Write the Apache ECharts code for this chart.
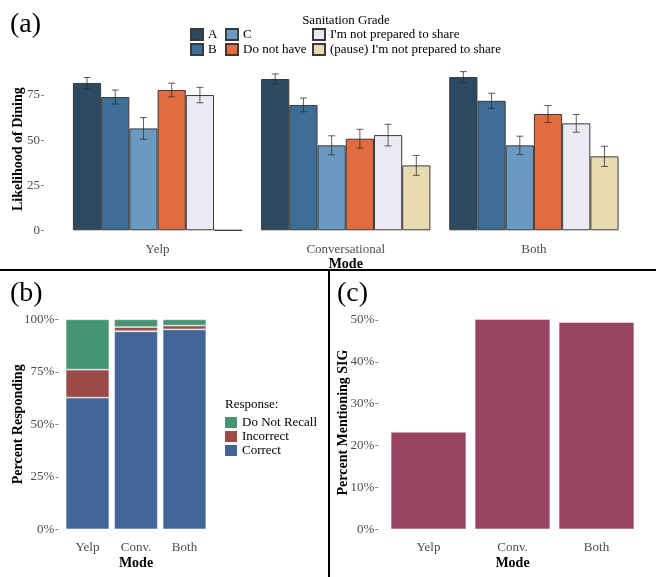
<!DOCTYPE html>
<html><head><meta charset="utf-8">
<script src="https://cdn.jsdelivr.net/npm/echarts@6/dist/echarts.min.js"></script>
<style>html,body{margin:0;padding:0;background:#fff}#c{width:660px;height:577px}</style>
</head><body><div id="c"></div>
<script>
// ---- Panel (a) data ----
const modesA = ['Yelp', 'Conversational', 'Both'];
const grades = ['A', 'B', 'C', 'Do not have', "I'm not prepared to share", "(pause) I'm not prepared to share"];
const gradeA = [81.7, 83.9, 85.0];
const gradeB = [73.9, 69.5, 71.8];
const gradeC = [56.5, 47.1, 47.1];
const gradeDNH = [77.8, 50.8, 64.5];
const gradeINPS = [75.0, 52.8, 59.3];
const gradePause = [0, 36.0, 41.0];
const errA = [3.0, 2.8, 3.0];
const errB = [3.9, 3.8, 4.2];
const errC = [6.0, 5.3, 5.1];
const errDNH = [3.8, 5.2, 4.7];
const errINPS = [4.3, 6.0, 4.9];
const errPause = [null, 5.5, 5.6];
const ticksA = [0, 25, 50, 75];

// ---- Panel (b) data ----
const modesB = ['Yelp', 'Conv.', 'Both'];
const responses = ['Do Not Recall', 'Incorrect', 'Correct'];
const correct = [62.7, 94.3, 95.2];
const incorrect = [13.3, 2.0, 1.8];
const doNotRecall = [24.0, 3.7, 3.0];
const ticksB = [0, 25, 50, 75, 100];

// ---- Panel (c) data ----
const modesC = ['Yelp', 'Conv.', 'Both'];
const mentionSIG = [23.3, 50.2, 49.5];
const ticksC = [0, 10, 20, 30, 40, 50];

const gradeColors = ['#2d4a63', '#3e6e98', '#6a9ac2', '#e06c3f', '#ede9f3', '#e9dbb1'];
const gradeVals = [gradeA, gradeB, gradeC, gradeDNH, gradeINPS, gradePause];
const gradeErrs = [errA, errB, errC, errDNH, errINPS, errPause];

const FONT = '"Liberation Serif", "Times New Roman", serif';
const tickLbl = {color: '#4d4d4d', fontFamily: FONT, fontSize: 13};
const nameSty = {color: '#000', fontFamily: FONT, fontSize: 14, fontWeight: 'bold'};

const errData = [];
gradeErrs.forEach((arr, si) => arr.forEach((e, ci) => {
  if (e != null) errData.push([ci, si, gradeVals[si][ci] - e, gradeVals[si][ci] + e]);
}));

const series = [];
grades.forEach((g, i) => series.push({
  name: g, type: 'bar', xAxisIndex: 0, yAxisIndex: 0,
  data: gradeVals[i], barGap: '0%', barCategoryGap: '10%',
  itemStyle: {color: gradeColors[i], borderColor: '#3a3a3a', borderWidth: 1},
  emphasis: {disabled: true}, clip: false
}));
series.push({
  type: 'custom', xAxisIndex: 0, yAxisIndex: 0, data: errData,
  encode: {x: 0, y: [2, 3]}, z: 10,
  renderItem: function (params, api) {
    const ci = api.value(0), si = api.value(1);
    const band = api.size([1, 0])[0];
    const bw = band * 0.9 / 6;
    const cx = api.coord([ci, 0])[0] + (si - 2.5) * bw;
    const lo = api.coord([ci, api.value(2)])[1];
    const hi = api.coord([ci, api.value(3)])[1];
    const cap = 3.5;
    const st = {stroke: '#2a2a2a', lineWidth: 1, opacity: 0.75};
    return {type: 'group', children: [
      {type: 'line', shape: {x1: cx, y1: hi, x2: cx, y2: lo}, style: st},
      {type: 'line', shape: {x1: cx - cap, y1: hi, x2: cx + cap, y2: hi}, style: st},
      {type: 'line', shape: {x1: cx - cap, y1: lo, x2: cx + cap, y2: lo}, style: st}
    ]};
  }
});
const respColors = {'Correct': '#436598', 'Incorrect': '#9c4b46', 'Do Not Recall': '#459574'};
[['Correct', correct], ['Incorrect', incorrect], ['Do Not Recall', doNotRecall]].forEach(([n, d]) => series.push({
  name: n, type: 'bar', xAxisIndex: 1, yAxisIndex: 1, stack: 'resp', data: d,
  barCategoryGap: '10%', itemStyle: {color: respColors[n], borderColor: 'rgba(235,240,245,0.7)', borderWidth: 0.8},
  emphasis: {disabled: true}
}));
series.push({
  name: 'SIG', type: 'bar', xAxisIndex: 2, yAxisIndex: 2, data: mentionSIG,
  barCategoryGap: '10%', itemStyle: {color: '#974462', borderColor: 'rgba(245,230,235,0.7)', borderWidth: 0.8},
  emphasis: {disabled: true}, clip: false
});

const legSty = {fontFamily: FONT, fontSize: 13, color: '#000', lineHeight: 13};
function leg(data, left, top, w, h, gap, extra) {
  return Object.assign({data: data, left: left, top: top, orient: 'vertical', itemWidth: w, itemHeight: h,
    itemGap: gap, selectedMode: false, padding: 0, textStyle: legSty, icon: 'rect'}, extra || {});
}

const chart = echarts.init(document.getElementById('c'), null, {renderer: 'canvas'});
chart.setOption({
  animation: false,
  backgroundColor: '#fff',
  grid: [
    {left: 63.5, right: 32, top: 68, bottom: 346.7},
    {left: 63.25, right: 451.25, top: 319.3, bottom: 47.7},
    {left: 386.5, right: 21.5, top: 315.8, bottom: 47.7}
  ],
  xAxis: [
    {gridIndex: 0, type: 'category', data: modesA, axisLine: {show: false}, axisTick: {show: false},
      axisLabel: Object.assign({margin: 13}, tickLbl), name: 'Mode', nameLocation: 'middle', nameGap: 27,
      nameTextStyle: nameSty, nameMoveOverlap: false},
    {gridIndex: 1, type: 'category', data: modesB, axisLine: {show: false}, axisTick: {show: false},
      axisLabel: Object.assign({margin: 12}, tickLbl), name: 'Mode', nameLocation: 'middle', nameGap: 27,
      nameTextStyle: nameSty, nameMoveOverlap: false},
    {gridIndex: 2, type: 'category', data: modesC, axisLine: {show: false}, axisTick: {show: false},
      axisLabel: Object.assign({margin: 12}, tickLbl), name: 'Mode', nameLocation: 'middle', nameGap: 27,
      nameTextStyle: nameSty, nameMoveOverlap: false}
  ],
  yAxis: [
    {gridIndex: 0, type: 'value', min: 0, max: 90, offset: 19.5, splitLine: {show: false},
      axisLine: {show: false}, axisTick: {show: true, length: 3, customValues: ticksA, lineStyle: {color: '#888'}},
      axisLabel: Object.assign({margin: 4, customValues: ticksA}, tickLbl),
      name: 'Likelihood of Dining', nameLocation: 'middle', nameGap: 19, nameRotate: 90,
      nameTextStyle: nameSty, nameMoveOverlap: false},
    {gridIndex: 1, type: 'value', min: 0, max: 100, offset: 4.85, splitLine: {show: false},
      axisLine: {show: false}, axisTick: {show: true, length: 3, customValues: ticksB, lineStyle: {color: '#888'}},
      axisLabel: Object.assign({margin: 4, customValues: ticksB, formatter: v => v + '%'}, tickLbl),
      name: 'Percent Responding', nameLocation: 'middle', nameGap: 33, nameRotate: 90,
      nameTextStyle: nameSty, nameMoveOverlap: false},
    {gridIndex: 2, type: 'value', min: 0, max: 51, offset: 8.2, splitLine: {show: false},
      axisLine: {show: false}, axisTick: {show: true, length: 3, customValues: ticksC, lineStyle: {color: '#888'}},
      axisLabel: Object.assign({margin: 4, customValues: ticksC, formatter: v => v + '%'}, tickLbl),
      name: 'Percent Mentioning SIG', nameLocation: 'middle', nameGap: 28, nameRotate: 90,
      nameTextStyle: nameSty, nameMoveOverlap: false}
  ],
  legend: [
    leg(['A', 'B'], 190, 28, 12, 11, 2),
    leg(['C', 'Do not have'], 225, 28, 12, 11, 2),
    leg(["I'm not prepared to share", "(pause) I'm not prepared to share"], 312, 28, 12, 11, 2),
    leg(responses, 225, 416, 12, 11, 1, {itemStyle: {borderWidth: 0}})
  ],
  graphic: [
    {type: 'text', left: 10, top: 11, style: {text: '(a)', font: '28px ' + FONT, fill: '#000'}},
    {type: 'text', left: 10, top: 280, style: {text: '(b)', font: '28px ' + FONT, fill: '#000'}},
    {type: 'text', left: 337, top: 280, style: {text: '(c)', font: '28px ' + FONT, fill: '#000'}},
    {type: 'text', x: 346, y: 21, style: {text: 'Sanitation Grade', font: '13px ' + FONT, fill: '#000', textAlign: 'center', textVerticalAlign: 'middle'}},
    {type: 'text', x: 225, y: 405, style: {text: 'Response:', font: '13px ' + FONT, fill: '#000', textAlign: 'left', textVerticalAlign: 'middle'}},
    {type: 'line', shape: {x1: 0, y1: 270, x2: 656, y2: 270}, style: {stroke: '#000', lineWidth: 2}},
    {type: 'line', shape: {x1: 329, y1: 270, x2: 329, y2: 577}, style: {stroke: '#000', lineWidth: 2}}
  ],
  series: series
});
</script></body></html>
